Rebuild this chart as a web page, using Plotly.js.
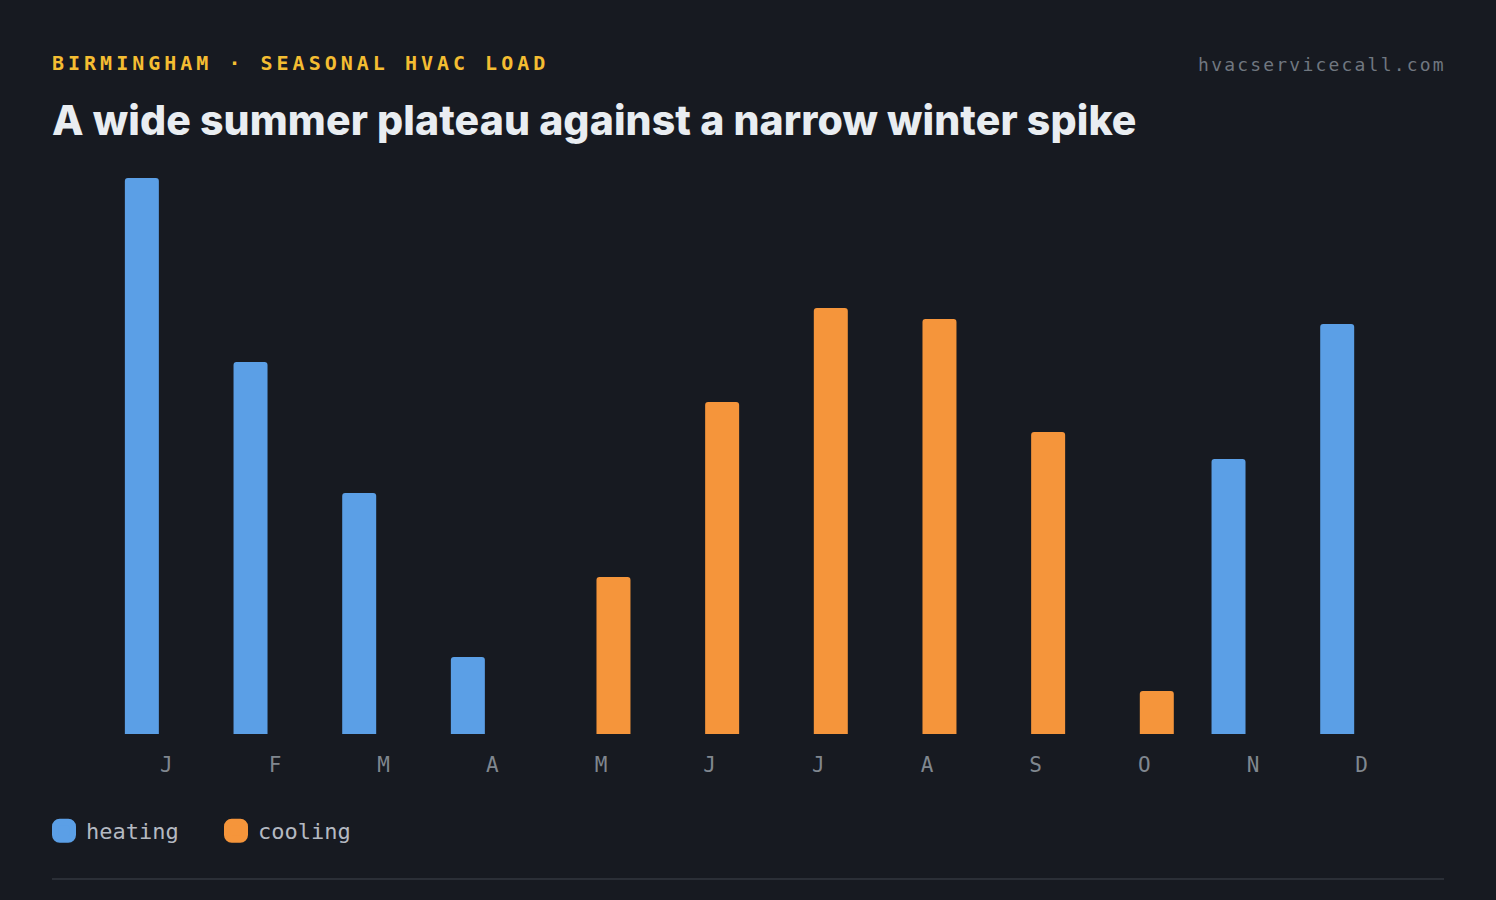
<!DOCTYPE html>
<html>
<head>
<meta charset="utf-8">
<script src="https://cdn.plot.ly/plotly-3.0.1.min.js"></script>
<style>
  html, body { margin: 0; padding: 0; background: #171a21; }
  #plot { width: 1496px; height: 900px; }
  .gtitle { letter-spacing: 0.1px; }
  .annotation[data-index="0"] text { letter-spacing: 4px; }
  .annotation[data-index="1"] text { letter-spacing: 2.2px; }
  /* bigger, rounded legend swatches */
  .legend .legendpoints path {
    transform: translate(20px, 0px) scale(1.42);
    stroke-width: 4.9px !important;
    stroke-linejoin: round;
  }
  .legend .traces:nth-child(1) .legendpoints path { stroke: #5b9fe6 !important; }
  .legend .traces:nth-child(2) .legendpoints path { stroke: #f5953b !important; }
  .legend .legendtext { transform: translate(2px, 0px); }
</style>
</head>
<body>
<div id="plot"></div>
<script>
const months = ["Jan", "Feb", "Mar", "Apr", "May", "Jun", "Jul", "Aug", "Sep", "Oct", "Nov", "Dec"];
const monthLabels = ["J", "F", "M", "A", "M", "J", "J", "A", "S", "O", "N", "D"];
// degree-day style load
const heating = [556, 372, 241, 77, 0, 0, 0, 0, 0, 0, 275, 410];
const cooling = [0, 0, 0, 0, 157, 332, 426, 415, 302, 43, 0, 0];

const BG = "#171a21";
const BLUE = "#5b9fe6";
const ORANGE = "#f5953b";
const MONO = "DejaVu Sans Mono, monospace";

const traces = [
  {
    x: months,
    y: heating,
    type: "bar",
    name: "heating",
    marker: { color: BLUE, line: { width: 0 } },
    hoverinfo: "skip",
  },
  {
    x: months,
    y: cooling,
    type: "bar",
    name: "cooling",
    marker: { color: ORANGE, line: { width: 0 } },
    hoverinfo: "skip",
  },
];

// annotations get letter-spacing from css after plotly measures them,
// so they are placed by their centre
const layout = {
  width: 1496,
  height: 900,
  paper_bgcolor: BG,
  plot_bgcolor: BG,
  margin: { l: 106, r: 86, t: 178, b: 166 },
  barmode: "group",
  bargap: 0.32,
  bargroupgap: 0.08,
  barcornerradius: 3,
  title: {
    text: "A wide summer plateau against a narrow winter spike",
    font: { family: "Inter, sans-serif", size: 41, weight: 800, color: "#e9edf1" },
    xref: "container",
    yref: "container",
    x: 52 / 1496,
    xanchor: "left",
    y: 1 - 121 / 900,
    yanchor: "middle",
  },
  xaxis: {
    type: "category",
    tickvals: months,
    ticktext: monthLabels,
    showgrid: false,
    zeroline: false,
    showline: false,
    ticks: "",
    ticklabelstandoff: 16,
    ticklabelshift: 6,
    tickfont: { family: MONO, size: 21, color: "#80878f" },
    fixedrange: true,
  },
  yaxis: {
    range: [0, 556],
    visible: false,
    fixedrange: true,
  },
  showlegend: true,
  legend: {
    orientation: "h",
    xref: "container",
    yref: "container",
    x: 44 / 1496,
    xanchor: "left",
    y: 1 - 831 / 900,
    yanchor: "middle",
    entrywidth: 127,
    font: { family: MONO, size: 22, color: "#b4b9c1" },
    bgcolor: "rgba(0,0,0,0)",
  },
  annotations: [
    {
      text: "<b>BIRMINGHAM · SEASONAL HVAC LOAD</b>",
      xref: "paper",
      yref: "paper",
      x: (300.5 - 106) / 1304,
      y: (734 - 63) / 556,
      xanchor: "center",
      yanchor: "middle",
      showarrow: false,
      font: { family: MONO, size: 20, color: "#f4bd32" },
    },
    {
      text: "hvacservicecall.com",
      xref: "paper",
      yref: "paper",
      x: (1322 - 106) / 1304,
      y: (734 - 65) / 556,
      xanchor: "center",
      yanchor: "middle",
      showarrow: false,
      font: { family: MONO, size: 18, color: "#707780" },
    },
  ],
  shapes: [
    {
      type: "line",
      xref: "paper",
      yref: "paper",
      x0: (52 - 106) / 1304,
      x1: (1444 - 106) / 1304,
      y0: (734 - 879) / 556,
      y1: (734 - 879) / 556,
      line: { color: "#2b2f37", width: 2 },
    },
  ],
};

Plotly.newPlot(document.querySelector("#plot"), traces, layout, {
  displayModeBar: false,
  staticPlot: true,
});
</script>
</body>
</html>
